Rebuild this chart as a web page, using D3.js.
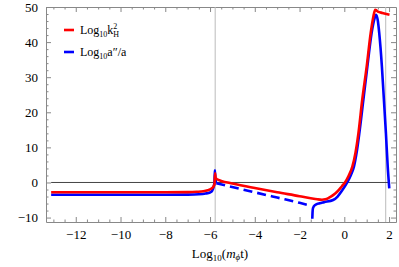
<!DOCTYPE html>
<html>
<head>
<meta charset="utf-8">
<script src="https://cdn.jsdelivr.net/npm/d3@7"></script>
<style>
  body { margin: 0; background: #fff; }
  .axis path, .axis line { stroke: #888; }
</style>
</head>
<body>
<div id="chart"></div>
<script>
/////////////////////////////////////
///      DATA
/////////////////////////////////////
var xTicks = [-12, -10, -8, -6, -4, -2, 0, 2];
var yTicks = [-10, 0, 10, 20, 30, 40, 50];
var gridX = [-5.77, 1.85];
var zeroLineX = [-13.1, 2.04];

// Log10 k_H^2 (red)
var redX = [-13.1, -12, -10, -8, -7, -6.6, -6.3, -6.1, -5.95, -5.85, -5.8, -5.775, -5.75, -5.68, -5.5, -5, -4, -3, -2, -1.5, -1.2, -1.0, -0.85, -0.7, -0.5, -0.3, -0.1, 0.03, 0.2, 0.36, 0.5, 0.63, 0.8, 1.0, 1.18, 1.3, 1.38, 1.5, 1.7, 2.02];
var redY = [-2.8, -2.8, -2.8, -2.8, -2.75, -2.65, -2.5, -2.2, -1.8, -1.2, -0.4, 2.6, 1.3, 0.9, 0.45, -0.3, -1.6, -2.8, -3.9, -4.5, -4.8, -4.9, -4.8, -4.4, -3.6, -2.5, -1.0, 0, 2.0, 4.5, 8.5, 14, 23.5, 33, 42.6, 47.3, 49.2, 48.7, 48.3, 47.8];

// Log10 a''/a (blue) : solid before, dashed middle, solid after
var blueAX = [-13.1, -12, -10, -8, -7, -6.5, -6.2, -6.0, -5.9, -5.84, -5.8, -5.785, -5.76, -5.72];
var blueAY = [-3.5, -3.5, -3.5, -3.5, -3.45, -3.35, -3.15, -2.85, -2.3, -1.3, 0.2, 3.5, 1.0, -0.2];
var blueBX = [-5.72, -4, -3, -2, -1.5];
var blueBY = [-0.2, -2.8, -4.3, -5.8, -6.6];
var blueCX = [-1.43, -1.42, -1.4, -1.3, -1.1, -0.9, -0.5, -0.3, -0.1, 0.13, 0.3, 0.43, 0.55, 0.67, 0.85, 1.03, 1.22, 1.34, 1.42, 1.5, 1.56, 1.68, 1.77, 1.86, 1.94, 2.01];
var blueCY = [-10.3, -8.6, -7.3, -6.4, -5.9, -5.6, -5.0, -4.0, -2.3, 0, 2.2, 4.5, 8.5, 14, 23.5, 33, 42.6, 46.5, 47.8, 46, 42.6, 33, 23.5, 14, 4.5, -1.7];

/////////////////////////////////////
///      CHART
/////////////////////////////////////
var width = 399, height = 267;
var margin = {left: 46, right: 3, top: 7, bottom: 45};
var serif = "Liberation Serif, DejaVu Serif, serif";

var svg = d3.select("#chart").append("svg")
  .attr("width", width).attr("height", height)
  .attr("font-family", serif);

var x = d3.scaleLinear().domain([-13.33, 2.31]).range([margin.left, width - margin.right]);
var y = d3.scaleLinear().domain([-11.26, 50]).range([height - margin.bottom, margin.top]);

var xMinor = d3.range(-13, 2.5, 0.5).filter(function(v){ return xTicks.indexOf(v) < 0; });
var yMinor = d3.range(-10, 51, 2).filter(function(v){ return yTicks.indexOf(v) < 0; });

function frameAxis(axisFn, scale, major, minor, pos, labels) {
  var g = svg.append("g").attr("class", "axis").attr("transform", pos);
  g.call(axisFn(scale).tickValues(minor).tickSize(-2.5).tickFormat(""));
  g.select(".domain").remove();
  var gm = svg.append("g").attr("class", "axis").attr("transform", pos);
  gm.call(axisFn(scale).tickValues(major).tickSize(-5).tickSizeOuter(0).tickPadding(8)
    .tickFormat(labels ? function(d){ return d < 0 ? "\u2212" + Math.abs(d) : d; } : ""));
  gm.attr("font-family", serif).attr("font-size", 13);
  return gm;
}

frameAxis(d3.axisBottom, x, xTicks, xMinor, "translate(0," + y.range()[0] + ")", true);
frameAxis(d3.axisTop, x, xTicks, xMinor, "translate(0," + y.range()[1] + ")", false);
frameAxis(d3.axisLeft, y, yTicks, yMinor, "translate(" + x.range()[0] + ",0)", true);
frameAxis(d3.axisRight, y, yTicks, yMinor, "translate(" + x.range()[1] + ",0)", false);

// grid lines
svg.selectAll(".grid").data(gridX).enter().append("line")
  .attr("x1", function(d){ return x(d); }).attr("x2", function(d){ return x(d); })
  .attr("y1", y.range()[0]).attr("y2", y.range()[1])
  .attr("stroke", "#bbb").attr("stroke-width", 1);

svg.append("line")
  .attr("x1", x(zeroLineX[0])).attr("x2", x(zeroLineX[1]))
  .attr("y1", y(0)).attr("y2", y(0))
  .attr("stroke", "#444").attr("stroke-width", 1);

var line = d3.line()
  .x(function(d){ return x(d[0]); })
  .y(function(d){ return y(d[1]); })
  .curve(d3.curveMonotoneX);

function zip(a, b) { return a.map(function(v, i){ return [v, b[i]]; }); }

function drawLine(xs, ys, color, dash) {
  var p = svg.append("path")
    .datum(zip(xs, ys))
    .attr("fill", "none")
    .attr("stroke", color)
    .attr("stroke-width", 2.6)
    .attr("stroke-linejoin", "round")
    .attr("d", line);
  if (dash) p.attr("stroke-dasharray", dash);
}

drawLine(blueAX, blueAY, "#0000ff");
drawLine(blueBX, blueBY, "#0000ff", "9,5");
drawLine(blueCX, blueCY, "#0000ff");
drawLine(redX, redY, "#ff0000");

// legend
var legend = svg.append("g").attr("font-size", 12);
legend.append("line").attr("x1", 64).attr("x2", 74).attr("y1", 30).attr("y2", 30)
  .attr("stroke", "#ff0000").attr("stroke-width", 2.6);
legend.append("line").attr("x1", 64).attr("x2", 74).attr("y1", 52).attr("y2", 52)
  .attr("stroke", "#0000ff").attr("stroke-width", 2.6);

var t1 = legend.append("text").attr("x", 80).attr("y", 34);
t1.append("tspan").text("Log");
t1.append("tspan").attr("dy", 3).attr("font-size", 8).text("10");
t1.append("tspan").attr("dy", -3).text("k");
t1.append("tspan").attr("dy", -5).attr("font-size", 8).text("2");
t1.append("tspan").attr("dx", -4).attr("dy", 8).attr("font-size", 8).text("H");

var t2 = legend.append("text").attr("x", 80).attr("y", 56);
t2.append("tspan").text("Log");
t2.append("tspan").attr("dy", 3).attr("font-size", 8).text("10");
t2.append("tspan").attr("dy", -3).text("a\u2033/a");

// x axis title
var xt = svg.append("text").attr("x", 220).attr("y", 258).attr("text-anchor", "middle").attr("font-size", 13);
xt.append("tspan").text("Log");
xt.append("tspan").attr("dy", 3).attr("font-size", 9).text("10");
xt.append("tspan").attr("dy", -3).text("(");
xt.append("tspan").attr("font-style", "italic").text("m");
xt.append("tspan").attr("dy", 2).attr("font-size", 9).attr("font-style", "italic").text("\u03d5");
xt.append("tspan").attr("dy", -2).text("t)");
</script>
</body>
</html>
